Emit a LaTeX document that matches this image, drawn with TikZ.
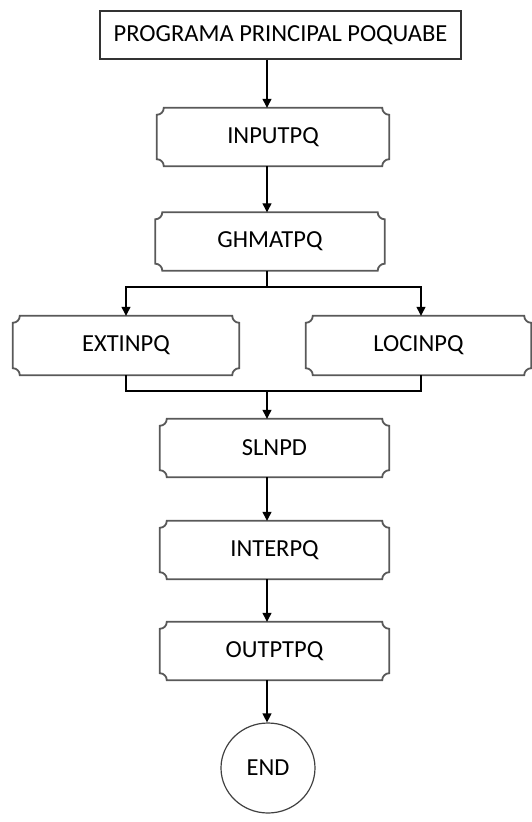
\documentclass[tikz,border=0pt]{standalone}
\usepackage{fontspec}
\setmainfont{Carlito}
\usetikzlibrary{calc,arrows.meta,shapes.geometric}
\newcommand\plaqr{7}
\newcommand\plaqueoutline[1]{%
 \draw[plaq] ($(#1.north west)+(0,\plaqr)$) .. controls ($(#1.north west)+(0.552*\plaqr,\plaqr)$) and ($(#1.north west)+(\plaqr,0.552*\plaqr)$) .. ($(#1.north west)+(\plaqr,0)$)
 -- ($(#1.north east)+(-\plaqr,0)$) .. controls ($(#1.north east)+(-\plaqr,0.552*\plaqr)$) and ($(#1.north east)+(-0.552*\plaqr,\plaqr)$) .. ($(#1.north east)+(0,\plaqr)$)
 -- ($(#1.south east)+(0,-\plaqr)$) .. controls ($(#1.south east)+(-0.552*\plaqr,-\plaqr)$) and ($(#1.south east)+(-\plaqr,-0.552*\plaqr)$) .. ($(#1.south east)+(-\plaqr,0)$)
 -- ($(#1.south west)+(\plaqr,0)$) .. controls ($(#1.south west)+(\plaqr,-0.552*\plaqr)$) and ($(#1.south west)+(0.552*\plaqr,-\plaqr)$) .. ($(#1.south west)+(0,-\plaqr)$) -- cycle;}
\begin{document}
\begin{tikzpicture}[x=1pt,y=-1pt,
  every node/.style={font=\fontsize{24.5}{28}\selectfont, text=black},
  topbox/.style={draw=black!80, line width=1.3pt, minimum width=361pt, minimum height=48pt},
  proc/.style={minimum width=229pt, minimum height=58pt},
  plaq/.style={draw=black!65, line width=1.8pt},
  endnode/.style={ellipse, draw=black!75, line width=1.2pt, minimum width=94pt, minimum height=90pt},
  conn/.style={draw=black, line width=1.2pt},
  arr/.style={conn, -{Triangle[length=9pt,width=9pt]}}]
\useasboundingbox (0,0) rectangle (532,822);
\coordinate (ax) at (267,0);
\node[topbox] (top) at (280.5,35) {PROGRAMA PRINCIPAL POQUABE};
\node[proc, minimum width=232pt] (inp) at (273,137) {INPUTPQ};
\node[proc] (ghm) at (270,241.5) {GHMATPQ};
\node[proc, minimum width=226pt, minimum height=59pt] (ext) at (126,345.5) {EXTINPQ};
\node[proc, minimum width=225pt, minimum height=59pt] (loc) at (418.5,345.5) {LOCINPQ};
\node[proc] (sln) at (274.5,448) {SLNPD};
\node[proc] (int) at (274.5,550) {INTERPQ};
\node[proc] (out) at (274.5,651) {OUTPTPQ};
\node[endnode] (end) at (268,768) {END};
\foreach \n in {inp,ghm,ext,loc,sln,int,out} {\plaqueoutline{\n}}
\coordinate (lx) at (126,0);
\coordinate (rx) at (421,0);
\coordinate (split) at (267,287);
\coordinate (merge) at (267,391);
\draw[arr] (top.south -| ax) -- (inp.north -| ax);
\draw[arr] (inp.south -| ax) -- (ghm.north -| ax);
\draw[conn] (ghm.south -| ax) -- (split);
\draw[arr] (split) -| (ext.north -| lx);
\draw[arr] (split) -| (loc.north -| rx);
\draw[conn] (ext.south -| lx) |- (merge) -| (loc.south -| rx);
\draw[arr] (merge) -- (sln.north -| ax);
\draw[arr] (sln.south -| ax) -- (int.north -| ax);
\draw[arr] (int.south -| ax) -- (out.north -| ax);
\draw[arr] (out.south -| ax) -- (end.north -| ax);
\end{tikzpicture}
\end{document}
